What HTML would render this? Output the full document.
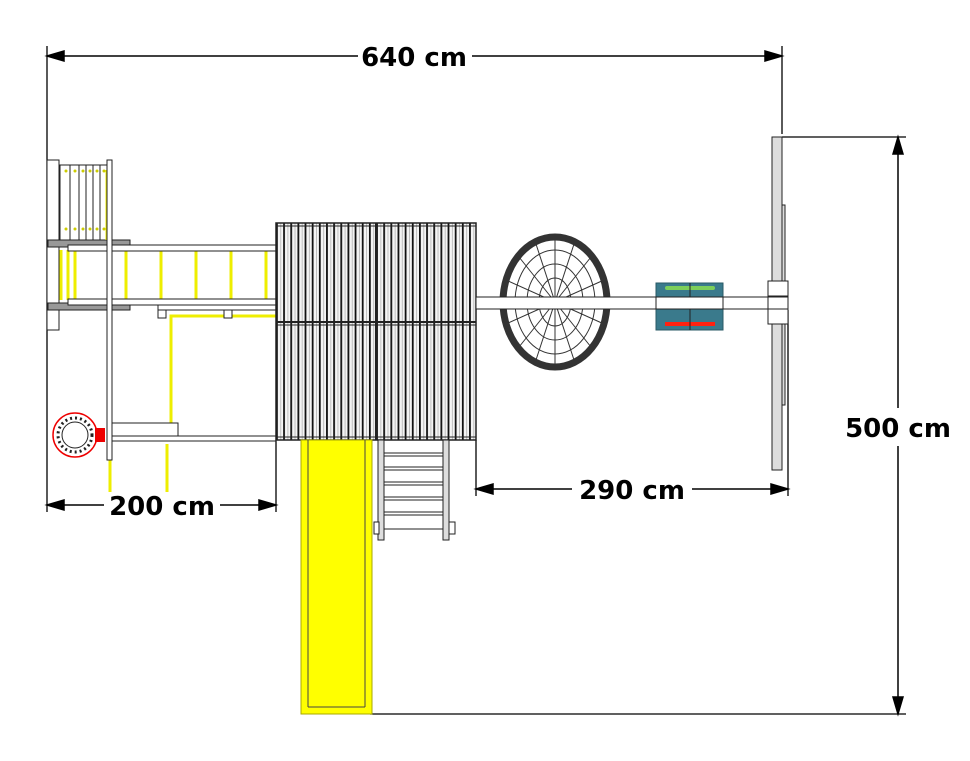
<!DOCTYPE html>
<html><head><style>
html,body{margin:0;padding:0;background:#fff;}
svg{display:block;}
text{font-family:"DejaVu Sans","Liberation Sans",sans-serif;font-weight:bold;font-size:26px;fill:#000;}
</style></head><body>
<svg width="970" height="761" viewBox="0 0 970 761" xmlns="http://www.w3.org/2000/svg">
<defs>
<pattern id="slat" x="276" y="0" width="7.15" height="10" patternUnits="userSpaceOnUse">
<rect x="0" y="0" width="7.15" height="10" fill="#f4f4f4"/>
<rect x="0" y="0" width="1.8" height="10" fill="#111"/>
<rect x="4.5" y="0" width="0.5" height="10" fill="#888"/>
</pattern>
</defs>

<!-- dimension extension lines -->
<g stroke="#000" stroke-width="1.3" fill="none">
<line x1="47" y1="46" x2="47" y2="512"/>
<line x1="782" y1="46" x2="782" y2="134"/>
<line x1="782" y1="137" x2="906" y2="137"/>
<line x1="370" y1="714" x2="906" y2="714"/>
<line x1="276" y1="440" x2="276" y2="512"/>
<line x1="476" y1="440" x2="476" y2="496"/>
<line x1="788" y1="310" x2="788" y2="496"/>
</g>
<!-- dimension lines -->
<g stroke="#000" stroke-width="1.5">
<line x1="60" y1="56" x2="358" y2="56"/>
<line x1="472" y1="56" x2="769" y2="56"/>
<path d="M47,56 L64,51 L64,61Z" fill="#000"/>
<path d="M782,56 L765,51 L765,61Z" fill="#000"/>
<line x1="898" y1="150" x2="898" y2="408"/>
<line x1="898" y1="446" x2="898" y2="700"/>
<path d="M898,137 L893,154 L903,154Z" fill="#000"/>
<path d="M898,714 L893,697 L903,697Z" fill="#000"/>
<line x1="60" y1="505" x2="104" y2="505"/>
<line x1="220" y1="505" x2="263" y2="505"/>
<path d="M47,505 L64,500 L64,510Z" fill="#000"/>
<path d="M276,505 L259,500 L259,510Z" fill="#000"/>
<line x1="490" y1="489" x2="572" y2="489"/>
<line x1="692" y1="489" x2="775" y2="489"/>
<path d="M476,489 L493,484 L493,494Z" fill="#000"/>
<path d="M788,489 L771,484 L771,494Z" fill="#000"/>
</g>
<text x="414" y="66" text-anchor="middle">640 cm</text>
<text x="898" y="437" text-anchor="middle">500 cm</text>
<text x="162" y="515" text-anchor="middle">200 cm</text>
<text x="632" y="499" text-anchor="middle">290 cm</text>

<!-- left tower -->
<g stroke="#222" stroke-width="1">
<rect x="47" y="160" width="12" height="170" fill="#fff"/>
<rect x="60" y="165" width="48" height="76" fill="#fff"/>
<line x1="70" y1="165" x2="70" y2="241"/><line x1="79" y1="165" x2="79" y2="241"/>
<line x1="86" y1="165" x2="86" y2="241"/><line x1="93" y1="165" x2="93" y2="241"/>
<line x1="100" y1="165" x2="100" y2="241"/>
<rect x="48" y="240" width="82" height="7" fill="#999"/>
<rect x="48" y="303" width="82" height="7" fill="#999"/>
</g>
<g fill="#cc0">
<circle cx="66" cy="171" r="1.5"/><circle cx="75" cy="171" r="1.5"/><circle cx="83" cy="171" r="1.5"/><circle cx="90" cy="171" r="1.5"/><circle cx="97" cy="171" r="1.5"/><circle cx="104" cy="171" r="1.5"/>
<circle cx="66" cy="229" r="1.5"/><circle cx="75" cy="229" r="1.5"/><circle cx="83" cy="229" r="1.5"/><circle cx="90" cy="229" r="1.5"/><circle cx="97" cy="229" r="1.5"/><circle cx="104" cy="229" r="1.5"/>
</g>
<g stroke="#ee0" stroke-width="3">
<line x1="61" y1="250" x2="61" y2="300"/><line x1="68" y1="250" x2="68" y2="300"/><line x1="75" y1="250" x2="75" y2="300"/>
<line x1="126" y1="250" x2="126" y2="300"/><line x1="161" y1="250" x2="161" y2="300"/>
<line x1="196" y1="250" x2="196" y2="300"/><line x1="231" y1="250" x2="231" y2="300"/><line x1="266" y1="250" x2="266" y2="300"/>
<line x1="107" y1="170" x2="107" y2="240"/>
<polyline points="171,432 171,316 276,316" fill="none"/>
<line x1="110" y1="444" x2="110" y2="492"/><line x1="167" y1="444" x2="167" y2="492"/>
</g>
<g stroke="#222" stroke-width="1" fill="#fff">
<rect x="68" y="245" width="208" height="6"/>
<rect x="68" y="299" width="208" height="6"/>
<rect x="158" y="305" width="118" height="5"/>
<rect x="158" y="310" width="8" height="8"/><rect x="224" y="310" width="8" height="8"/>
<rect x="107" y="160" width="5" height="300"/>
<rect x="112" y="423" width="66" height="13"/>
<rect x="112" y="436" width="164" height="5"/>
</g>
<!-- red ring -->
<circle cx="75" cy="435" r="22" fill="#fff" stroke="#e00" stroke-width="1.5"/>
<circle cx="75" cy="435" r="17" fill="none" stroke="#222" stroke-width="3" stroke-dasharray="2 3"/>
<circle cx="75" cy="435" r="13" fill="none" stroke="#222" stroke-width="1"/>
<rect x="95" y="428" width="10" height="14" fill="#e00"/>

<!-- deck -->
<rect x="276" y="223" width="200" height="217" fill="url(#slat)" stroke="#222" stroke-width="1.5"/>
<line x1="376" y1="223" x2="376" y2="440" stroke="#222" stroke-width="2"/>
<line x1="276" y1="322" x2="476" y2="322" stroke="#222" stroke-width="2"/>
<line x1="276" y1="325" x2="476" y2="325" stroke="#222" stroke-width="1"/>
<line x1="276" y1="226" x2="476" y2="226" stroke="#222" stroke-width="1"/>
<line x1="276" y1="437" x2="476" y2="437" stroke="#222" stroke-width="1"/>

<!-- slide -->
<rect x="301" y="440" width="71" height="274" fill="#ff0" stroke="#aa0" stroke-width="1"/>
<line x1="308" y1="440" x2="308" y2="707" stroke="#444"/>
<line x1="365" y1="440" x2="365" y2="707" stroke="#444"/>
<line x1="308" y1="707" x2="365" y2="707" stroke="#444"/>

<!-- stairs -->
<g stroke="#222" stroke-width="1" fill="#ddd">
<rect x="378" y="440" width="6" height="100"/>
<rect x="443" y="440" width="6" height="100"/>
<rect x="374" y="522" width="5" height="12" fill="#fff"/>
<rect x="449" y="522" width="6" height="12" fill="#fff"/>
</g>
<g stroke="#222" stroke-width="1">
<line x1="384" y1="453" x2="443" y2="453"/><line x1="384" y1="456" x2="443" y2="456"/>
<line x1="384" y1="467" x2="443" y2="467"/><line x1="384" y1="470" x2="443" y2="470"/>
<line x1="384" y1="482" x2="443" y2="482"/><line x1="384" y1="485" x2="443" y2="485"/>
<line x1="384" y1="497" x2="443" y2="497"/><line x1="384" y1="500" x2="443" y2="500"/>
<line x1="384" y1="512" x2="443" y2="512"/><line x1="384" y1="515" x2="443" y2="515"/>
<line x1="384" y1="529" x2="443" y2="529"/>
</g>

<!-- net -->
<g fill="none" stroke="#333">
<ellipse cx="555" cy="302" rx="51" ry="64" stroke-width="1" />
<ellipse cx="555" cy="302" rx="40" ry="52" stroke-width="1"/>
<ellipse cx="555" cy="302" rx="28" ry="38" stroke-width="1"/>
<ellipse cx="555" cy="302" rx="16" ry="24" stroke-width="1"/>
<line x1="555" y1="238" x2="555" y2="366"/>
<line x1="504" y1="302" x2="606" y2="302"/>
<line x1="519" y1="257" x2="591" y2="347"/><line x1="591" y1="257" x2="519" y2="347"/>
<line x1="535" y1="241" x2="575" y2="363"/><line x1="575" y1="241" x2="535" y2="363"/>
<line x1="506" y1="280" x2="604" y2="324"/><line x1="604" y1="280" x2="506" y2="324"/>
<ellipse cx="555" cy="302" rx="52" ry="65" stroke="#333" stroke-width="7"/>
</g>

<!-- beam -->
<rect x="476" y="297" width="312" height="12" fill="#fff" stroke="#222" stroke-width="1"/>

<!-- teal seat -->
<rect x="656" y="283" width="67" height="47" fill="#3a7a8c" stroke="#2a5a66"/>
<rect x="665" y="286" width="50" height="4" rx="2" fill="#7ccf5a"/>
<rect x="665" y="322" width="50" height="4" fill="#f21"/>
<rect x="656" y="297" width="67" height="12" fill="#fff" stroke="#222" stroke-width="1"/>
<line x1="690" y1="283" x2="690" y2="297" stroke="#222"/><line x1="690" y1="309" x2="690" y2="330" stroke="#222"/>

<!-- right A-frame -->
<g stroke="#222" stroke-width="1" fill="#ddd">
<rect x="772" y="137" width="10" height="333"/>
<rect x="782" y="205" width="3" height="200"/>
<rect x="768" y="281" width="20" height="15" fill="#fff"/>
<rect x="768" y="309" width="20" height="15" fill="#fff"/>
</g>
<rect x="768" y="297" width="20" height="12" fill="#fff" stroke="#222" stroke-width="1"/>
</svg>
</body></html>
